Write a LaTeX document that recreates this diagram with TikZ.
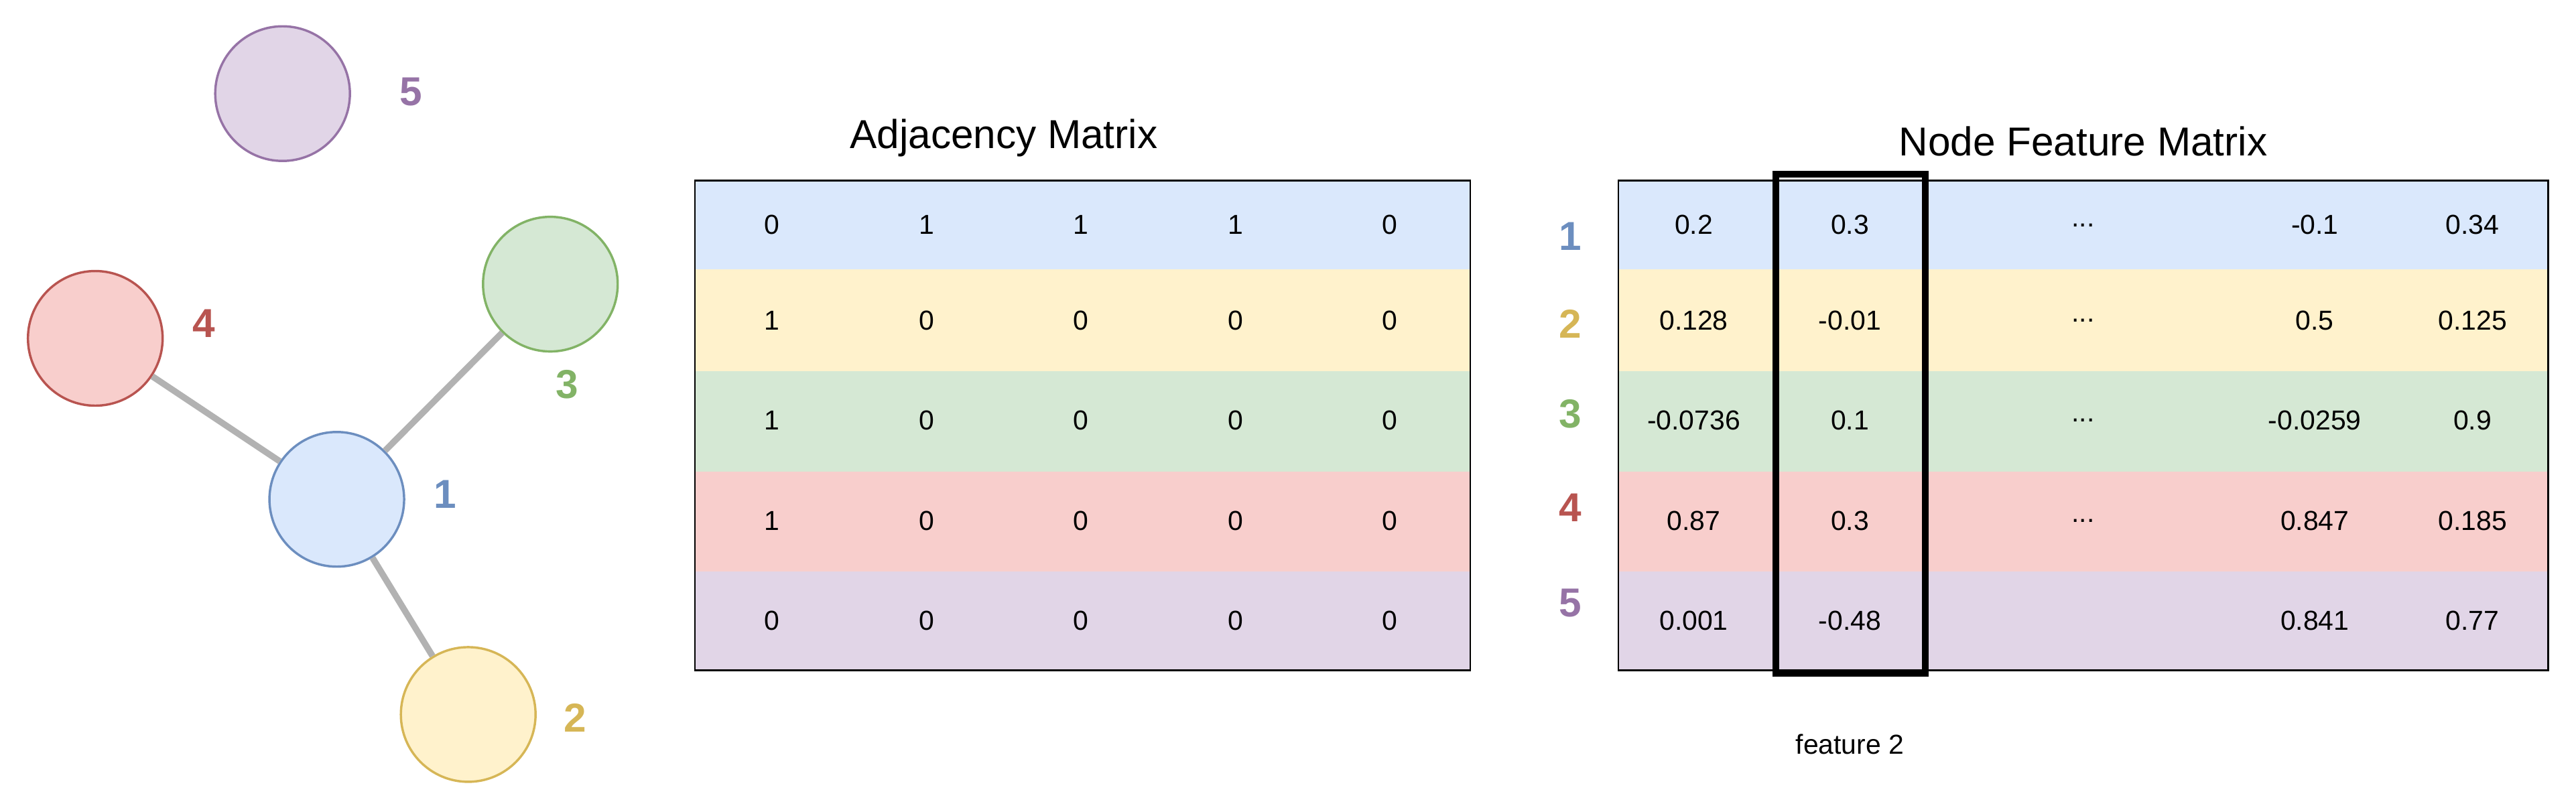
\documentclass[tikz,border=0pt]{standalone}
\usepackage{fontspec}
\setmainfont{Liberation Sans}
\newcommand\mydts{...}
\definecolor{cb}{HTML}{DAE8FC}\definecolor{sb}{HTML}{6C8EBF}
\definecolor{cy}{HTML}{FFF2CC}\definecolor{sy}{HTML}{D6B656}
\definecolor{cg}{HTML}{D5E8D4}\definecolor{sg}{HTML}{82B366}
\definecolor{cr}{HTML}{F8CECC}\definecolor{sr}{HTML}{B85450}
\definecolor{cp}{HTML}{E1D5E7}\definecolor{sp}{HTML}{9673A6}
\begin{document}
\begin{tikzpicture}[x=0.02cm,y=-0.02cm,
  gnode/.style={circle,minimum size=1.64cm,inner sep=0,line width=0.8pt},
  glab/.style={font=\fontsize{14}{16}\selectfont\bfseries},
  edge/.style={line width=2.2pt,draw=black!30},
  cell/.style={font=\fontsize{9.5}{11}\selectfont},
  ttl/.style={font=\fontsize{14}{16}\selectfont}]
\useasboundingbox (0,0) rectangle (1568,493);
\node[gnode,fill=cp,draw=sp] (n5) at (172,57) {};
\node[gnode,fill=cr,draw=sr] (n4) at (58,206) {};
\node[gnode,fill=cg,draw=sg] (n3) at (335,173) {};
\node[gnode,fill=cb,draw=sb] (n1) at (205,304) {};
\node[gnode,fill=cy,draw=sy] (n2) at (285,435) {};
\draw[edge] (n1) -- (n4); \draw[edge] (n1) -- (n3); \draw[edge] (n1) -- (n2);
\node[glab,text=sp] (l5) at (250,56) {5};
\node[glab,text=sr] (l4) at (124,197) {4};
\node[glab,text=sg] (l3) at (345,234) {3};
\node[glab,text=sb] (l1) at (271,301) {1};
\node[glab,text=sy] (l2) at (350,437) {2};
\foreach \c/\ya/\yb in {cb/110/164,cy/164/226,cg/226/287,cr/287/348,cp/348/408}{
  \fill[\c] (423,\ya) rectangle (895,\yb);
  \fill[\c] (985,\ya) rectangle (1551,\yb);
}
\draw[line width=0.6pt] (423,110) rectangle (895,408);
\draw[line width=0.6pt] (985,110) rectangle (1551,408);
\node[ttl] (t1) at (611,84) {Adjacency Matrix};
\node[ttl] (t2) at (1268,86) {Node Feature Matrix};
\foreach \y/\a/\b/\c/\d/\e [count=\r] in {137/0/1/1/1/0,195/1/0/0/0/0,256/1/0/0/0/0,317/1/0/0/0/0,378/0/0/0/0/0}{
  \node[cell] (a\r1) at (470,\y) {\a};
  \node[cell] (a\r2) at (564,\y) {\b};
  \node[cell] (a\r3) at (658,\y) {\c};
  \node[cell] (a\r4) at (752,\y) {\d};
  \node[cell] (a\r5) at (846,\y) {\e};
}
\foreach \y/\a/\b/\c/\d/\e [count=\r] in {137/0.2/0.3/\mydts/-0.1/0.34,195/0.128/-0.01/\mydts/0.5/0.125,256/-0.0736/0.1/\mydts/-0.0259/0.9,317/0.87/0.3/\mydts/0.847/0.185,378/0.001/-0.48/{}/0.841/0.77}{
  \node[cell] (f\r1) at (1031,\y) {\a};
  \node[cell] (f\r2) at (1126,\y) {\b};
  \node[cell] (f\r3) at (1268,\y) {\c};
  \node[cell] (f\r4) at (1409,\y) {\d};
  \node[cell] (f\r5) at (1505,\y) {\e};
}
\foreach \y/\t/\c [count=\r] in {144/1/sb,197/2/sy,252/3/sg,309/4/sr,367/5/sp}
  \node[glab,text=\c] (r\r) at (956,\y) {\t};
\draw[line width=2.4pt] (1081,106) rectangle (1172,410);
\node[cell] (fl) at (1126,453) {feature 2};
\end{tikzpicture}
\end{document}
